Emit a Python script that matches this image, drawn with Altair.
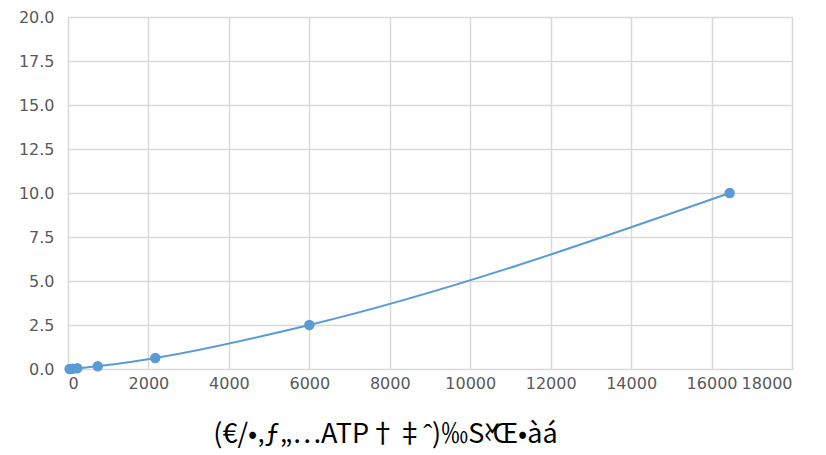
import altair as alt
import pandas as pd

signal = [40, 110, 230, 740, 2170, 6000, 16450]
conc = [0.0, 0.0098, 0.039, 0.156, 0.625, 2.5, 10.0]
x_ticks = [0, 2000, 4000, 6000, 8000, 10000, 12000, 14000, 16000, 18000]
y_ticks = [0, 2.5, 5, 7.5, 10, 12.5, 15, 17.5, 20]
x_title = "(€/•‚ƒ„…ATP†‡ˆ)‰Š‹Œ•àá"

df = pd.DataFrame({"x": signal, "y": conc})

xenc = alt.X("x:Q", scale=alt.Scale(domain=[0, 18000], nice=False),
             axis=alt.Axis(values=x_ticks, format="d", title=x_title,
                           domain=False, ticks=False, grid=True,
                           gridColor="#d9d9d9", gridWidth=1.5,
                           labelFont="DejaVu Sans", labelFontSize=16,
                           labelColor="#595959", labelPadding=6,
                           titleFont="Noto Sans CJK JP", titleFontSize=27,
                           titleFontWeight="normal", titleColor="#000000",
                           titlePadding=30, titleX=317, titleAlign="center"))
yenc = alt.Y("y:Q", scale=alt.Scale(domain=[0, 20], nice=False),
             axis=alt.Axis(values=y_ticks, format=".1f", title=None,
                           domain=False, ticks=False, grid=True,
                           gridColor="#d9d9d9", gridWidth=1.5,
                           labelFont="DejaVu Sans", labelFontSize=16,
                           labelColor="#595959", labelPadding=14))

line = alt.Chart(df).mark_line(color="#5b9bd5", strokeWidth=2,
                               interpolate="monotone").encode(x=xenc, y=yenc)
pts = alt.Chart(df).mark_point(filled=True, color="#5b9bd5", size=110,
                               opacity=1).encode(x=xenc, y=yenc)

chart = (line + pts).properties(
    width=724, height=352,
    autosize=alt.AutoSizeParams(type="none"),
    padding={"left": 60, "top": 9, "right": 26, "bottom": 86},
).configure_view(stroke=None)

chart.save("out.html", embed_options={"renderer": "svg", "actions": False})
